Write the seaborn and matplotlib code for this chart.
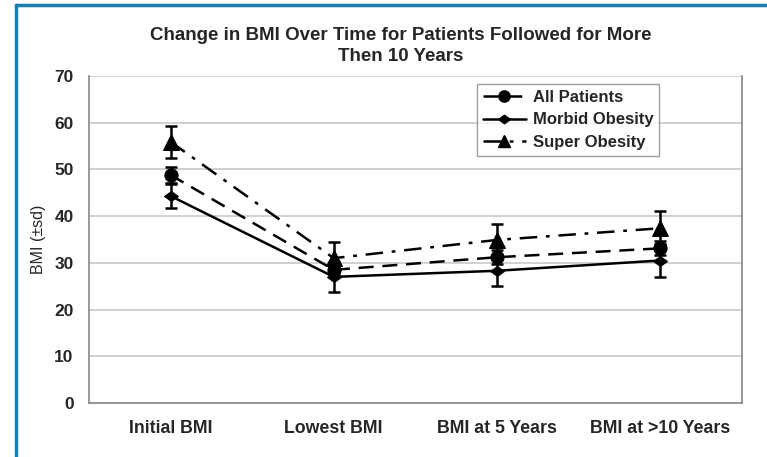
import matplotlib
matplotlib.use("Agg")
import matplotlib.pyplot as plt
from matplotlib.lines import Line2D
import numpy as np
import pandas as pd
import seaborn as sns

categories = ["Initial BMI", "Lowest BMI", "BMI at 5 Years", "BMI at >10 Years"]
series_names = ["All Patients", "Morbid Obesity", "Super Obesity"]
all_patients = [48.8, 28.5, 31.2, 33.1]
morbid_obesity = [44.3, 27.0, 28.3, 30.5]
super_obesity = [55.9, 31.0, 34.9, 37.4]
all_patients_sd = [1.8, 1.5, 1.5, 1.5]
morbid_obesity_sd = [2.6, 3.2, 3.3, 3.6]
super_obesity_sd = [3.4, 3.5, 3.4, 3.6]
y_ticks = [0, 10, 20, 30, 40, 50, 60, 70]

sns.set_theme(style="white")
plt.rcParams["font.family"] = ["Liberation Sans", "DejaVu Sans"]

means = [all_patients, morbid_obesity, super_obesity]
sds = [all_patients_sd, morbid_obesity_sd, super_obesity_sd]
df = pd.DataFrame({
    "category": np.tile(categories, len(series_names)),
    "pos": np.tile(np.arange(len(categories)), len(series_names)),
    "series": np.repeat(series_names, len(categories)),
    "bmi": np.concatenate(means),
    "sd": np.concatenate(sds),
})

fig = plt.figure(figsize=(7.67, 4.57), dpi=100)
ax = fig.add_axes([0.116, 0.118, 0.851, 0.716])

# flattened diamond, wider than tall
flat_diamond = [(-1, 0), (0, 0.72), (1, 0), (0, -0.72), (-1, 0)]

styles = {
    "All Patients": dict(marker="o", ms=9.5, dashes=(6, 3.5)),
    "Morbid Obesity": dict(marker=flat_diamond, ms=10, dashes=None),
    "Super Obesity": dict(marker="^", ms=11, dashes=(7, 3.5, 1.5, 3.5)),
}

handles = []
for name in series_names:
    sub = df[df["series"] == name]
    st = styles[name]
    ax.errorbar(sub["pos"], sub["bmi"], yerr=sub["sd"], fmt="none",
                ecolor="black", elinewidth=1.8, capsize=4.5, capthick=1.8, zorder=3)
    sns.lineplot(data=sub, x="pos", y="bmi", ax=ax, color="black",
                 linewidth=1.8, marker=st["marker"], markersize=st["ms"],
                 markeredgecolor="black", markerfacecolor="black",
                 errorbar=None, legend=False, zorder=4)
    line = ax.lines[-1]
    if st["dashes"] is not None:
        line.set_dashes(st["dashes"])
    handles.append(Line2D([0], [0], color="black", linewidth=1.8,
                          marker=st["marker"], markersize=st["ms"] * 0.85,
                          linestyle="-" if st["dashes"] is None else (0, st["dashes"])))

ax.set_xlim(-0.5, len(categories) - 0.5)
ax.set_ylim(0, 70)
ax.set_yticks(y_ticks)
ax.set_yticklabels([str(t) for t in y_ticks], fontsize=12.5, fontweight="bold")
ax.set_xticks(np.arange(-0.5, len(categories)))
ax.set_xticklabels([])
ax.set_xticks(np.arange(len(categories)), minor=True)
ax.set_xticklabels(categories, minor=True, fontsize=12.8, fontweight="bold")
ax.tick_params(axis="x", which="major", direction="out", length=5, color="#888888", width=1)
ax.tick_params(axis="x", which="minor", length=0, pad=12)
ax.tick_params(axis="y", direction="out", length=5, color="#888888", width=1, pad=6)
ax.yaxis.grid(True, color="#c8c8c8", linewidth=1.2)
ax.set_axisbelow(True)
for side in ["left", "bottom", "right"]:
    ax.spines[side].set_visible(True)
    ax.spines[side].set_color("#888888")
    ax.spines[side].set_linewidth(1.2)
ax.spines["top"].set_visible(False)
ax.set_xlabel("")
ax.set_ylabel("BMI (±sd)", fontsize=11.5, labelpad=6)

leg = ax.legend(handles, series_names, loc="upper left",
                bbox_to_anchor=(0.594, 0.975), borderaxespad=0,
                frameon=True, fancybox=False,
                handlelength=2.6, handletextpad=0.4, borderpad=0.35,
                labelspacing=0.45, prop={"size": 12, "weight": "bold"})
leg.get_frame().set_edgecolor("#888888")
leg.get_frame().set_linewidth(1.0)

fig.suptitle("Change in BMI Over Time for Patients Followed for More\nThen 10 Years",
             x=0.523, y=0.94, fontsize=13.5, fontweight="bold", linespacing=1.3)

frame_color = "#1a7fae"
fig.add_artist(Line2D([16 / 767, 1.0], [1 - 5 / 457, 1 - 5 / 457],
                      transform=fig.transFigure, color=frame_color, linewidth=2.5))
fig.add_artist(Line2D([16 / 767, 16 / 767], [0.0, 1 - 5 / 457],
                      transform=fig.transFigure, color=frame_color, linewidth=2.5))

fig.savefig("out.png", dpi=100)
